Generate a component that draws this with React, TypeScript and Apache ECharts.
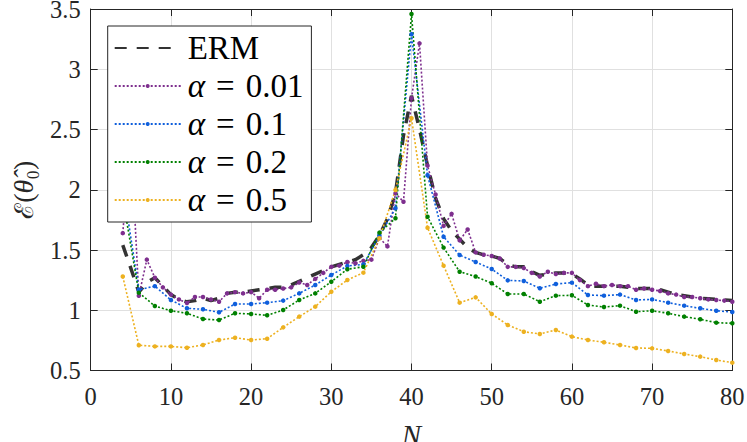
import React, { useEffect, useRef } from "react";
import * as echarts from "echarts";

// N values
const nDense = [4, 5, 6, 7, 8, 9, 10, 11, 12, 13, 14, 15, 16, 17, 18, 19, 20, 21, 22, 23, 24, 25, 26, 27, 28, 29, 30, 31, 32, 33, 34, 35, 36, 37, 38, 39, 40, 41, 42, 43, 44, 45, 46, 47, 48, 49, 50, 51, 52, 53, 54, 55, 56, 57, 58, 59, 60, 61, 62, 63, 64, 65, 66, 67, 68, 69, 70, 71, 72, 73, 74, 75, 76, 77, 78, 79, 80];
const nEven = [4, 6, 8, 10, 12, 14, 16, 18, 20, 22, 24, 26, 28, 30, 32, 34, 36, 38, 40, 42, 44, 46, 48, 50, 52, 54, 56, 58, 60, 62, 64, 66, 68, 70, 72, 74, 76, 78, 80];

// ERM (every N)
const ermValues = [1.54, 1.35, 1.15, 1.23, 1.27, 1.2, 1.13, 1.09, 1.07, 1.08, 1.1, 1.08, 1.1, 1.14, 1.15, 1.15, 1.16, 1.17, 1.18, 1.19, 1.19, 1.21, 1.24, 1.27, 1.3, 1.33, 1.36, 1.38, 1.4, 1.42, 1.46, 1.52, 1.62, 1.76, 1.97, 2.45, 2.78, 2.5, 2.2, 1.93, 1.76, 1.66, 1.59, 1.52, 1.48, 1.46, 1.45, 1.43, 1.38, 1.36, 1.36, 1.32, 1.29, 1.3, 1.31, 1.31, 1.3, 1.26, 1.21, 1.2, 1.2, 1.2, 1.2, 1.19, 1.18, 1.18, 1.18, 1.17, 1.15, 1.13, 1.12, 1.11, 1.1, 1.095, 1.09, 1.085, 1.08];
// alpha = 0.01 (every N)
const alpha001 = [1.64, 2.44, 1.12, 1.42, 1.27, 1.19, 1.13, 1.09, 1.06, 1.11, 1.11, 1.09, 1.07, 1.14, 1.15, 1.14, 1.15, 1.1, 1.17, 1.17, 1.18, 1.19, 1.23, 1.21, 1.26, 1.31, 1.36, 1.37, 1.4, 1.39, 1.41, 1.42, 1.6, 1.53, 1.97, 1.9, 2.76, 3.215, 2.2, 1.96, 1.7, 1.8, 1.58, 1.67, 1.48, 1.46, 1.45, 1.43, 1.36, 1.36, 1.35, 1.31, 1.28, 1.32, 1.3, 1.31, 1.31, 1.25, 1.2, 1.22, 1.2, 1.21, 1.2, 1.2, 1.17, 1.18, 1.17, 1.16, 1.14, 1.13, 1.11, 1.11, 1.1, 1.09, 1.085, 1.08, 1.07];
// alpha = 0.1 (even N)
const alpha01 = [2.04, 1.17, 1.2, 1.085, 1.016, 1.008, 0.983, 1.052, 1.052, 1.063, 1.08, 1.14, 1.21, 1.293, 1.367, 1.381, 1.62, 1.846, 3.29, 2.12, 1.61, 1.458, 1.4, 1.342, 1.248, 1.243, 1.182, 1.218, 1.229, 1.127, 1.121, 1.13, 1.085, 1.09, 1.063, 1.038, 1.016, 0.996, 0.985];
// alpha = 0.2 (even N)
const alpha02 = [1.93, 1.146, 1.035, 0.996, 0.975, 0.927, 0.919, 0.975, 0.969, 0.958, 1.002, 1.085, 1.14, 1.237, 1.34, 1.361, 1.644, 1.763, 3.458, 1.776, 1.52, 1.32, 1.28, 1.224, 1.135, 1.135, 1.071, 1.121, 1.124, 1.044, 1.027, 1.038, 0.988, 0.996, 0.975, 0.947, 0.925, 0.897, 0.892];
// alpha = 0.5 (even N)
const alpha05 = [1.28, 0.71, 0.7, 0.7, 0.689, 0.712, 0.753, 0.772, 0.753, 0.764, 0.858, 0.947, 1.03, 1.154, 1.251, 1.312, 1.597, 1.998, 2.593, 1.685, 1.37, 1.063, 1.107, 0.969, 0.878, 0.822, 0.803, 0.836, 0.781, 0.753, 0.734, 0.712, 0.687, 0.684, 0.662, 0.637, 0.615, 0.587, 0.565];

const seriesNames = ["ERM", "α = 0.01", "α = 0.1", "α = 0.2", "α = 0.5"];
const seriesColors = ["#333333", "#7E2F8E", "#0F5FDC", "#008000", "#EDB120"];

const SERIF = "Liberation Serif";
const AXIS_COLOR = "#262626";

function pairs(xs: number[], ys: number[]) {
  return xs.map((x, i) => [x, ys[i]]);
}

function dottedSeries(name: string, color: string, xs: number[], ys: number[]) {
  return {
    name,
    type: "line",
    data: pairs(xs, ys),
    symbol: "circle",
    symbolSize: 4.5,
    showSymbol: true,
    itemStyle: { color },
    lineStyle: { color, width: 1.6, type: [2, 2] },
    emphasis: { disabled: true },
  };
}

function legendLabel(name: string) {
  if (name.indexOf("α") !== 0) return `{b|${name}}`;
  return `{a|α}{b|${name.slice(1).replace(" = ", " \u200A=\u200A ")}}`;
}

export default function App() {
  const ref = useRef<HTMLDivElement>(null);

  useEffect(() => {
    document.body.style.margin = "0";
    if (!ref.current) return;
    const chart = echarts.init(ref.current, null, { renderer: "svg" });

    const valueAxisCommon = {
      type: "value",
      axisLine: { show: true, onZero: false, lineStyle: { color: AXIS_COLOR, width: 1 } },
      axisTick: { show: true, inside: true, length: 7, lineStyle: { color: AXIS_COLOR, width: 1 } },
    };

    const option = {
      animation: false,
      backgroundColor: "#ffffff",
      grid: {
        left: 90.7,
        right: 14.7,
        top: 9,
        bottom: 71.5,
        containLabel: false,
        outerBoundsMode: "none",
      },
      legend: {
        orient: "vertical",
        left: 107.7,
        top: 26,
        backgroundColor: "#ffffff",
        borderColor: AXIS_COLOR,
        borderWidth: 1,
        borderRadius: 0,
        padding: [3, 8, 3, 6],
        itemWidth: 66,
        itemHeight: 5,
        itemGap: 0,
        selectedMode: false,
        data: [
          { name: seriesNames[0], itemStyle: { opacity: 0 } },
          seriesNames[1],
          seriesNames[2],
          seriesNames[3],
          seriesNames[4],
        ],
        formatter: legendLabel,
        textStyle: {
          fontFamily: SERIF,
          fontSize: 33,
          lineHeight: 38,
          color: "#000000",
          padding: [0, 0, 0, 2],
          rich: {
            a: { fontFamily: SERIF, fontStyle: "italic", fontSize: 33, lineHeight: 38, color: "#000000" },
            b: { fontFamily: SERIF, fontSize: 33, lineHeight: 38, color: "#000000" },
          },
        },
      },
      xAxis: [
        {
          ...valueAxisCommon,
          position: "bottom",
          min: 0,
          max: 80,
          interval: 10,
          axisLabel: { margin: 17, fontSize: 24.5, lineHeight: 18, fontFamily: SERIF, color: AXIS_COLOR },
          splitLine: { show: true, lineStyle: { color: "#e0e0e0", width: 1 } },
          name: "N",
          nameLocation: "middle",
          nameGap: 58,
          nameTextStyle: { fontFamily: SERIF, fontStyle: "italic", fontSize: 29, lineHeight: 12, color: AXIS_COLOR },
        },
        {
          ...valueAxisCommon,
          position: "top",
          min: 0,
          max: 80,
          interval: 10,
          axisLabel: { show: false },
          splitLine: { show: false },
        },
      ],
      yAxis: [
        {
          ...valueAxisCommon,
          position: "left",
          min: 0.5,
          max: 3.5,
          interval: 0.5,
          axisLabel: { margin: 10, fontSize: 24.5, lineHeight: 14, fontFamily: SERIF, color: AXIS_COLOR },
          splitLine: { show: true, lineStyle: { color: "#e0e0e0", width: 1 } },
          name: "{e|ℰ}{n|(}{t|θ̂}{n|₀)}",
          nameLocation: "middle",
          nameGap: 53,
          nameRotate: 90,
          nameTextStyle: {
            fontFamily: SERIF,
            fontSize: 28,
            color: AXIS_COLOR,
            rich: {
              e: { fontFamily: "DejaVu Serif", fontSize: 26, color: AXIS_COLOR },
              n: { fontFamily: SERIF, fontSize: 28, color: AXIS_COLOR },
              t: { fontFamily: SERIF, fontStyle: "italic", fontSize: 28, color: AXIS_COLOR },
            },
          },
        },
        {
          ...valueAxisCommon,
          position: "right",
          min: 0.5,
          max: 3.5,
          interval: 0.5,
          axisLabel: { show: false },
          splitLine: { show: false },
        },
      ],
      series: [
        {
          name: seriesNames[0],
          type: "line",
          data: pairs(nDense, ermValues),
          symbol: "none",
          showSymbol: false,
          itemStyle: { color: seriesColors[0] },
          lineStyle: { color: seriesColors[0], width: 3.5, type: [12, 10] },
          emphasis: { disabled: true },
        },
        dottedSeries(seriesNames[1], seriesColors[1], nDense, alpha001),
        dottedSeries(seriesNames[2], seriesColors[2], nEven, alpha01),
        dottedSeries(seriesNames[3], seriesColors[3], nEven, alpha02),
        dottedSeries(seriesNames[4], seriesColors[4], nEven, alpha05),
      ],
    };

    chart.setOption(option as any);
    return () => chart.dispose();
  }, []);

  return <div ref={ref} style={{ width: 747, height: 442 }} />;
}
